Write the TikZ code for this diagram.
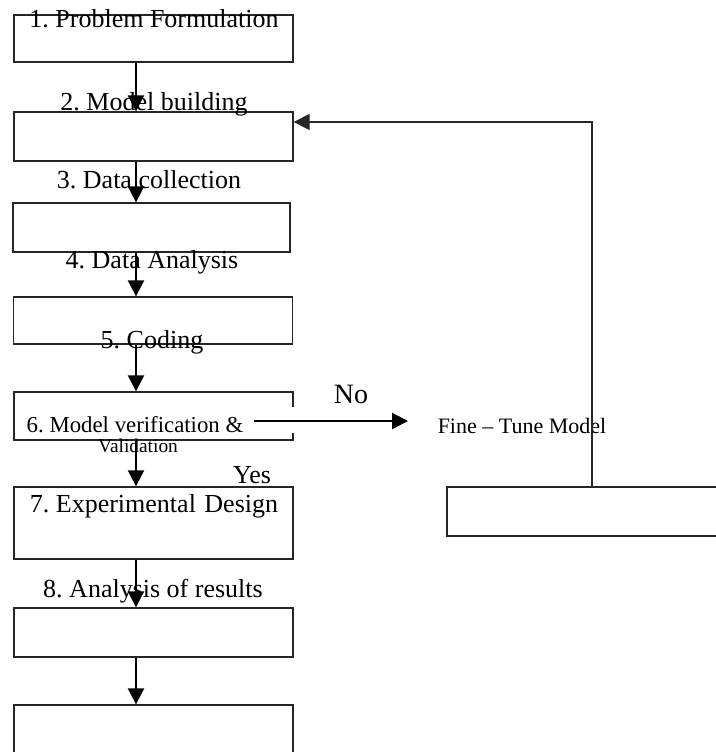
\documentclass[tikz,border=0pt]{standalone}
\usepackage{fontspec}
\setmainfont{Liberation Serif}
\frenchspacing
\usetikzlibrary{arrows.meta,positioning}

\begin{document}
\begin{tikzpicture}[x=0.5pt, y=-0.5pt, >={Triangle[width=8pt,length=8pt]},
    box/.style={draw=black!85, line width=0.65pt, inner sep=0pt, minimum width=139.5pt},
    lbl/.style={anchor=base, inner sep=0pt, font=\fontsize{13}{15}\selectfont},
    flow/.style={->, line width=0.95pt}]
\path[use as bounding box, clip] (0,0) rectangle (716,752);

    \node[box, minimum height=23.5pt]                     (b1)   at (153.5,38.5)  {};
    \node[box, minimum height=24.5pt]                     (b2)   at (153.5,136.5) {};
    \node[box, minimum height=24.5pt, minimum width=138.5pt] (b3) at (151.5,227.5) {};
    \node[box, minimum height=23.5pt]                     (b4)   at (153,320.5)   {};
    \node[box, minimum height=24pt]                       (b6)   at (153.5,416)   {};
    \node[box, minimum height=36pt]                       (b7)   at (153.5,523)   {};
    \node[box, minimum height=24.5pt]                     (b8)   at (153.5,632.5) {};
    \node[box, minimum height=47.5pt]                     (b9)   at (153.5,752.5) {};
    \node[box, minimum height=24.5pt, minimum width=156.5pt] (fine) at (603.5,511.5) {};

    \node[lbl] (t1)  at (154,27)  {1. Problem Formulation};
    \node[lbl] (t2)  at (154,110) {2. Model building};
    \node[lbl] (t3)  at (149,188) {3. Data collection};
    \node[lbl] (t4)  at (152,268) {4. Data Analysis};
    \node[lbl] (t5)  at (152,348) {5. Coding};
    \node[lbl, font=\fontsize{11.4}{13}\selectfont] (t6)  at (135,432) {6. Model verification \&};
    \node[lbl, font=\fontsize{9.7}{11}\selectfont]  (t6b) at (138,452) {Validation};
    \node[lbl] (t7)  at (154,512) {7. Experimental\hspace{1pt} Design};
    \node[lbl] (t8)  at (153,597) {8. Analysis of results};
    \node[lbl, font=\fontsize{13}{15}\selectfont]   (yes) at (252,483) {Yes};
    \node[lbl, font=\fontsize{14}{16}\selectfont]   (no)  at (351,403) {No};
    \node[lbl, font=\fontsize{11}{13}\selectfont]   (tf)  at (522,433) {Fine – Tune Model};

    \coordinate (spine)   at (136,0);
    \coordinate (nostart) at (254,421);
    \coordinate (noend)   at (408,421);
    \coordinate (ret)     at (592,122);

    % gap in the right side of box 6
    \fill[white] (290,407) rectangle (297,433);

    \path[flow] (b1.south -| spine) edge (b2.north -| spine)
                (b2.south -| spine) edge (b3.north -| spine)
                (b3.south -| spine) edge (b4.north -| spine)
                (b4.south -| spine) edge (b6.north -| spine)
                (b6.south -| spine) edge (b7.north -| spine)
                (b7.south -| spine) edge (b8.north -| spine)
                (b8.south -| spine) edge (b9.north -| spine);

    \draw[->, line width=1.2pt] (nostart) -- (noend);
    \draw[->, black!85, line width=0.65pt] (fine.north -| ret) -- (ret) -- (b2.east |- ret);
\end{tikzpicture}
\end{document}
